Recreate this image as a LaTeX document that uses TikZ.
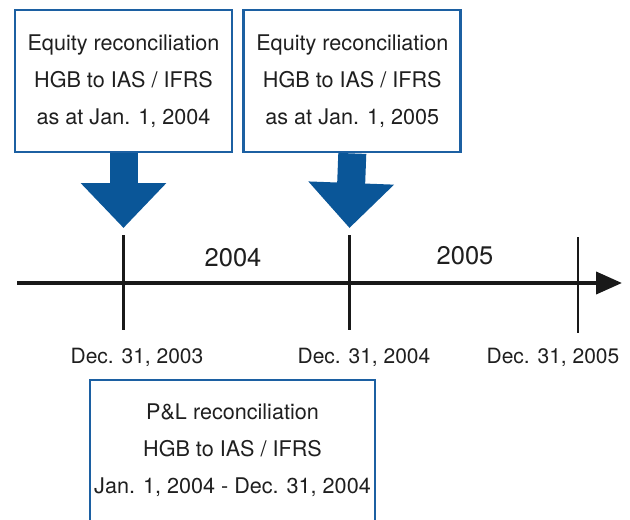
\documentclass[tikz,border=0pt]{standalone}
\usepackage{fontspec}
\setmainfont{TeX Gyre Heros}
\usepackage{xcolor}
\usepackage{tikz}
\usetikzlibrary{arrows.meta,positioning}
\definecolor{recblue}{RGB}{10,86,152}
\definecolor{recframe}{RGB}{28,96,162}

\begin{document}
\begin{tikzpicture}[x=1pt,y=-1pt,
  box/.style={draw=recframe,line width=2.8pt,align=center,minimum width=217pt,minimum height=142pt,inner sep=0pt,text=black!88,font=\fontsize{21.6}{37}\selectfont},
  bigarrow/.style={recblue,line width=28pt,-{Triangle[width=83pt,length=45pt]}},
  tick/.style={line width=2.5pt,black!90},
  date/.style={text=black!88,font=\fontsize{21}{24}\selectfont},
  year/.style={text=black!88,font=\fontsize{25.5}{30}\selectfont}]
\useasboundingbox (0,0) rectangle (630,520);
\node[box] (eq1) at (123.5,81) {Equity reconciliation\\HGB to IAS / IFRS\\as at Jan. 1, 2004};
\node[box,right=9pt of eq1] (eq2) {Equity reconciliation\\HGB to IAS / IFRS\\as at Jan. 1, 2005};
\node[box,minimum width=285pt,minimum height=150pt,text depth=13pt] (pl) at (232.5,455) {P\&L reconciliation\\HGB to IAS / IFRS\\Jan. 1, 2004 - Dec. 31, 2004};
% time line
\coordinate (start) at (17,283);
\coordinate (end) at (622,283);
\coordinate (t1) at (123.5,283);
\coordinate (t2) at (349.5,283);
\coordinate (t3) at (578,284);
\draw[line width=4pt,black!90,-{Triangle[length=26pt,width=22pt]}] (start)--(end);
\draw[tick] ([yshift=48pt]t1)--([yshift=-47pt]t1);
\draw[tick] ([yshift=48pt]t2)--([yshift=-47pt]t2);
\draw[tick] ([yshift=47pt]t3)--([yshift=-49pt]t3);
\draw[bigarrow] (eq1.south)--([yshift=55pt]t1);
\draw[bigarrow] (eq2.south)--([yshift=55pt]t2);
\node[year] (y2004) at (233,258) {2004};
\node[year] (y2005) at (465,256) {2005};
\node[date] (d1) at (137,357) {Dec. 31, 2003};
\node[date] (d2) at (364,357) {Dec. 31, 2004};
\node[date] (d3) at (553,357) {Dec. 31, 2005};
\end{tikzpicture}
\end{document}
